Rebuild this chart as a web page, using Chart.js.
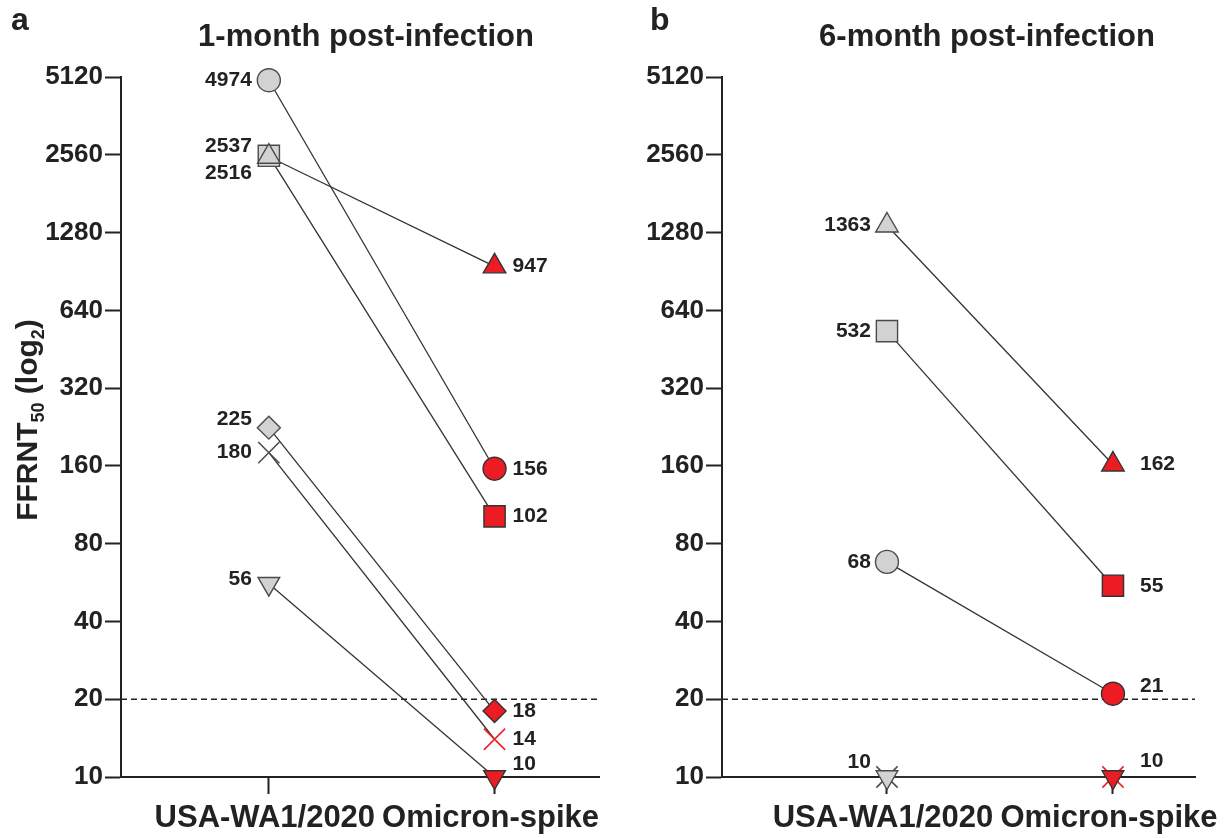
<!DOCTYPE html>
<html>
<head>
<meta charset="utf-8">
<script src="https://cdn.jsdelivr.net/npm/chart.js@4.4.1/dist/chart.umd.min.js"></script>
<style>
  body { margin: 0; background: #fff; overflow: hidden; }
  #wrap { position: relative; width: 1225px; height: 838px; overflow: hidden; }
  canvas { position: absolute; top: 0; }
  #chartA { left: 0; }
  #chartB { left: 612px; }
</style>
</head>
<body>
<div id="wrap">
  <canvas id="chartA" width="616" height="838"></canvas>
  <canvas id="chartB" width="613" height="838"></canvas>
</div>
<script>
const categories = ["USA-WA1/2020", "Omicron-spike"];
const yTicks = [10, 20, 40, 80, 160, 320, 640, 1280, 2560, 5120];
const threshold = 20;

// each pair is [USA-WA1/2020, Omicron-spike] for one subject
const m1Circle = [4974, 156];
const m1Square = [2537, 102];
const m1Triangle = [2516, 947];
const m1Diamond = [225, 18];
const m1Cross = [180, 14];
const m1Down = [56, 10];

const m6Triangle = [1363, 162];
const m6Square = [532, 55];
const m6Circle = [68, 21];
const m6Down = [10, 10];
const m6Cross = [10, 10];

const INK = "#222";
const LINE = "#333";
const GRAY = "#d2d2d2";
const RED = "#ec1c24";
const EDGE = "#4a4a4a";
const FONT = "'Liberation Sans', Arial, Helvetica, sans-serif";

Chart.defaults.font.family = FONT;
Chart.defaults.color = INK;

const shapes = {
  circle: { pointStyle: "circle", pointRadius: 11.5, pointRotation: 0 },
  square: { pointStyle: "rect", pointRadius: 15, pointRotation: 0 },
  triangle: { pointStyle: "triangle", pointRadius: 13, pointRotation: 0 },
  diamond: { pointStyle: "rectRot", pointRadius: 11.5, pointRotation: 0 },
  cross: { pointStyle: "crossRot", pointRadius: 15, pointRotation: 0 },
  down: { pointStyle: "triangle", pointRadius: 12.5, pointRotation: 180 }
};

function series(values, shape, extra) {
  return Object.assign({
    data: values.map((v, i) => ({ x: i, y: v })),
    borderColor: LINE,
    borderWidth: 1.3,
    pointBackgroundColor: [GRAY, RED],
    pointBorderColor: [EDGE, "#333"],
    pointBorderWidth: 1.4,
    pointHoverRadius: shapes[shape].pointRadius,
    clip: false,
    showLabels: true,
    labelNudge: [0, 0]
  }, shapes[shape], extra || {});
}

const annot = {
  id: "annot",
  beforeDatasetsDraw(chart, args, o) {
    const { ctx, chartArea } = chart;
    const y = chart.scales.y.getPixelForValue(threshold);
    ctx.save();
    ctx.strokeStyle = INK;
    ctx.lineWidth = 1.5;
    ctx.setLineDash([6, 4]);
    ctx.beginPath();
    ctx.moveTo(chartArea.left, y);
    ctx.lineTo(chartArea.right, y);
    ctx.stroke();
    ctx.restore();
  },
  afterDatasetsDraw(chart, args, o) {
    const ctx = chart.ctx;
    ctx.save();
    ctx.fillStyle = INK;
    ctx.font = "bold 21px " + FONT;
    ctx.textBaseline = "middle";
    chart.data.datasets.forEach((ds, di) => {
      if (!ds.showLabels) return;
      const meta = chart.getDatasetMeta(di);
      meta.data.forEach((pt, i) => {
        const txt = String(ds.data[i].y);
        const dy = ds.labelNudge[i];
        if (i === 0) {
          ctx.textAlign = "right";
          ctx.fillText(txt, pt.x - o.leftGap, pt.y + dy);
        } else {
          ctx.textAlign = "left";
          ctx.fillText(txt, pt.x + o.rightGap, pt.y + dy);
        }
      });
    });
    ctx.restore();
  },
  afterDraw(chart, args, o) {
    const ctx = chart.ctx;
    ctx.save();
    ctx.fillStyle = INK;
    ctx.textBaseline = "alphabetic";
    ctx.textAlign = "center";
    ctx.font = "bold 31px " + FONT;
    ctx.fillText(o.title, o.titleX, 46);
    ctx.textAlign = "left";
    ctx.font = "bold 32px " + FONT;
    ctx.fillText(o.letter, o.letterX, 30);
    if (o.yTitle) {
      const parts = [
        ["FFRNT", 30, 0], ["50", 18, 7], [" (log", 30, 0], ["2", 18, 7], [")", 30, 0]
      ];
      let total = 0;
      parts.forEach(p => { ctx.font = "bold " + p[1] + "px " + FONT; total += ctx.measureText(p[0]).width; });
      ctx.translate(37, 420);
      ctx.rotate(-Math.PI / 2);
      let x = -total / 2;
      parts.forEach(p => {
        ctx.font = "bold " + p[1] + "px " + FONT;
        ctx.fillText(p[0], x, p[2]);
        x += ctx.measureText(p[0]).width;
      });
    }
    ctx.restore();
  }
};

function makeChart(id, datasets, cfg) {
  return new Chart(document.getElementById(id), {
    type: "line",
    data: { datasets: datasets },
    plugins: [annot],
    options: {
      responsive: false,
      animation: false,
      events: [],
      layout: { padding: { top: 77, left: 0, right: cfg.padRight, bottom: 0 } },
      plugins: {
        legend: { display: false },
        tooltip: { enabled: false },
        title: { display: false },
        annot: cfg.annot
      },
      scales: {
        x: {
          type: "linear",
          bounds: "data",
          min: cfg.xMin,
          max: cfg.xMax,
          afterBuildTicks: s => { s.ticks = categories.map((c, i) => ({ value: i })); },
          afterFit: s => { s.height = 61; s.paddingLeft = 0; s.paddingRight = 0; },
          ticks: {
            callback: v => categories[v],
            font: { size: 31, weight: "bold" },
            color: INK,
            padding: 6,
            maxRotation: 0,
            autoSkip: false,
            labelOffset: -4
          },
          grid: { drawOnChartArea: false, tickLength: 17, tickColor: INK, tickWidth: 2 },
          border: { color: INK, width: 2 }
        },
        y: {
          type: "logarithmic",
          bounds: "data",
          min: 10,
          max: 5120,
          afterBuildTicks: s => { s.ticks = yTicks.map(v => ({ value: v })); },
          afterFit: s => { s.width = cfg.yWidth; },
          ticks: {
            callback: v => String(v),
            font: { size: 26, weight: "bold" },
            color: INK,
            padding: 2,
            autoSkip: false
          },
          grid: { drawOnChartArea: false, tickLength: 16, tickColor: INK, tickWidth: 2 },
          border: { color: INK, width: 2 }
        }
      }
    }
  });
}

makeChart("chartA", [
  series(m1Triangle, "triangle", { labelNudge: [16, 0] }),
  series(m1Circle, "circle"),
  series(m1Square, "square", { labelNudge: [-10, 0] }),
  series(m1Diamond, "diamond", { labelNudge: [-8, 0] }),
  series(m1Cross, "cross", { pointBorderColor: [EDGE, RED], pointBorderWidth: 1.5 }),
  series(m1Down, "down", { labelNudge: [-4, -13] })
], {
  xMin: -0.655, xMax: 1.465, yWidth: 121, padRight: 16,
  annot: { title: "1-month post-infection", titleX: 366, letter: "a", letterX: 11, leftGap: 17, rightGap: 18, yTitle: true }
});

makeChart("chartB", [
  series(m6Triangle, "triangle"),
  series(m6Square, "square"),
  series(m6Circle, "circle", { labelNudge: [0, -8] }),
  series(m6Down, "down", { labelNudge: [-15, -16] }),
  series(m6Cross, "cross", { pointBorderColor: [EDGE, RED], pointBorderWidth: 1.5, showLabels: false })
], {
  xMin: -0.73, xMax: 1.363, yWidth: 110, padRight: 30,
  annot: { title: "6-month post-infection", titleX: 375, letter: "b", letterX: 38, leftGap: 16, rightGap: 27, yTitle: false }
});
</script>
</body>
</html>
